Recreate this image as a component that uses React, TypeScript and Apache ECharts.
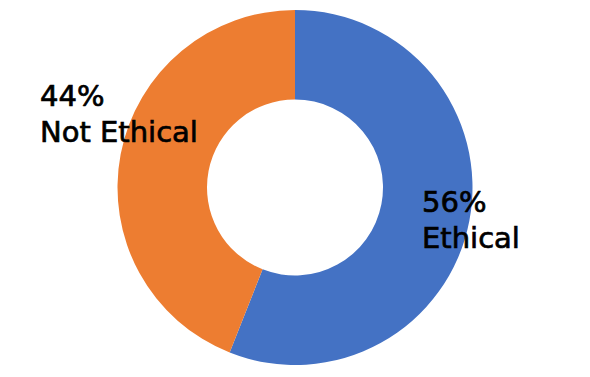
import React, { useEffect, useRef } from "react";
import * as echarts from "echarts";

const categories = ["Ethical", "Not Ethical"];
const values = [56, 44];
const colors = ["#4472C4", "#ED7D31"];

export default function App() {
  const ref = useRef<HTMLDivElement>(null);
  useEffect(() => {
    if (!ref.current) return;
    const chart = echarts.init(ref.current, null, { renderer: "svg" });
    const total = values.reduce((a, b) => a + b, 0);
    const labelText = (i: number) =>
      `${Math.round((values[i] / total) * 100)}%\n${categories[i]}`;
    const labelPos = [
      [422, 184],
      [40, 78],
    ];
    chart.setOption({
      animation: false,
      backgroundColor: "#ffffff",
      series: [
        {
          type: "pie",
          center: [295, 187.5],
          radius: [88, 177.5],
          startAngle: 90,
          clockwise: true,
          silent: true,
          label: { show: false },
          labelLine: { show: false },
          itemStyle: { borderWidth: 0 },
          data: categories.map((c, i) => ({
            name: c,
            value: values[i],
            itemStyle: { color: colors[i] },
          })),
        },
      ],
      graphic: categories.map((_, i) => ({
        type: "text",
        x: labelPos[i][0],
        y: labelPos[i][1],
        z: 100,
        style: {
          text: labelText(i),
          fill: "#000000",
          stroke: "#000000",
          lineWidth: 0.7,
          font: "29px 'DejaVu Sans', sans-serif",
          lineHeight: 36,
          verticalAlign: "top",
          align: "left",
        },
      })),
    });
    return () => chart.dispose();
  }, []);
  return (
    <div
      ref={ref}
      style={{ position: "fixed", left: 0, top: 0, width: 590, height: 377 }}
    />
  );
}
